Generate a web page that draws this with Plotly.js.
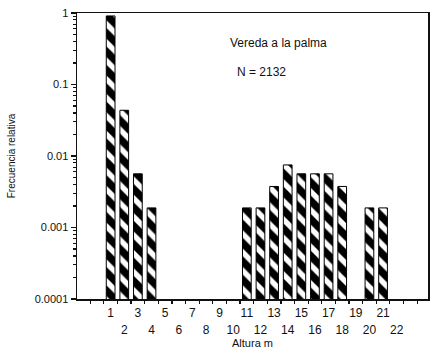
<!DOCTYPE html>
<html>
<head>
<meta charset="utf-8">
<script src="https://cdn.plot.ly/plotly-3.0.1.min.js"></script>
<style>
  html, body { margin: 0; padding: 0; background: #fff; }
  #chart { width: 431px; height: 355px; }
</style>
</head>
<body>
<div id="chart"></div>
<script>
// Height classes (m) and their relative frequency (N = 2132)
const alturas = [1, 2, 3, 4, 5, 6, 7, 8, 9, 10, 11, 12, 13, 14, 15, 16, 17, 18, 19, 20, 21, 22];
const frecuencia = [0.9095, 0.0436, 0.00563, 0.00188, null, null, null, null, null, null,
                    0.00188, 0.00188, 0.00375, 0.0075, 0.00563, 0.00563, 0.00563, 0.00375,
                    null, 0.00188, 0.00188, null];

const yTickVals = [0.0001, 0.001, 0.01, 0.1, 1];
const yTickText = ['0.0001', '0.001', '0.01', '0.1', '1'];

const oddTicks = alturas.filter(a => a % 2 === 1);
const evenTicks = alturas.filter(a => a % 2 === 0);

// minor log ticks 2..9 within each decade
const yMinorVals = [];
for (let e = -4; e < 0; e++) {
  for (let m = 2; m <= 9; m++) yMinorVals.push(m * Math.pow(10, e));
}

const FONT = 'Liberation Sans, Arial, sans-serif';
const INK = '#111';
const xRange = [-1.47, 24.3];

const trace = {
  type: 'bar',
  x: alturas,
  y: frecuencia,
  width: 0.64,
  marker: {
    color: '#000',
    line: { color: '#000', width: 1 },
    pattern: { shape: '\\', bgcolor: '#000', fgcolor: '#fff', size: 13, solidity: 0.42 }
  },
  hoverinfo: 'x+y'
};

// invisible companion trace so the even-label axis is drawn
const evenAxisTrace = { type: 'scatter', x: [], y: [], xaxis: 'x2', yaxis: 'y', hoverinfo: 'skip' };

const layout = {
  width: 431,
  height: 355,
  margin: { l: 77, r: 3, t: 13, b: 56 },
  paper_bgcolor: '#fff',
  plot_bgcolor: '#fff',
  showlegend: false,
  font: { family: FONT, size: 12, color: INK },
  xaxis: {
    range: xRange,
    showgrid: false,
    zeroline: false,
    showline: true,
    linecolor: INK,
    linewidth: 1.5,
    mirror: true,
    tickmode: 'array',
    tickvals: oddTicks,
    ticktext: oddTicks.map(String),
    ticks: '',
    ticklabelstandoff: 2,
    tickfont: { family: FONT, size: 12, color: INK },
    minor: { tick0: 0.5, dtick: 1, ticks: 'outside', ticklen: 3, tickwidth: 1.2, tickcolor: INK, showgrid: false },
    fixedrange: true
  },
  xaxis2: {
    overlaying: 'x',
    anchor: 'y',
    side: 'bottom',
    range: xRange,
    showgrid: false,
    zeroline: false,
    showline: false,
    tickmode: 'array',
    tickvals: evenTicks,
    ticktext: evenTicks.map(String),
    ticks: '',
    ticklabelstandoff: 22,
    tickfont: { family: FONT, size: 12, color: INK },
    title: { text: 'Altura m', font: { family: FONT, size: 11, color: INK }, standoff: 0 },
    fixedrange: true
  },
  yaxis: {
    type: 'log',
    range: [-4, 0],
    showgrid: false,
    zeroline: false,
    showline: true,
    linecolor: INK,
    linewidth: 1.5,
    mirror: true,
    tickmode: 'array',
    tickvals: yTickVals,
    ticktext: yTickText,
    ticks: 'outside',
    ticklen: 5,
    tickwidth: 1.3,
    tickcolor: INK,
    tickfont: { family: FONT, size: 11, color: INK },
    minor: { tickmode: 'array', tickvals: yMinorVals, ticks: 'outside', ticklen: 3, tickwidth: 1.1, tickcolor: INK, showgrid: false },
    title: { text: 'Frecuencia relativa', font: { family: FONT, size: 10, color: INK }, standoff: 17 },
    fixedrange: true
  },
  annotations: [
    { xref: 'paper', yref: 'paper', x: 0.43, y: 0.895, xanchor: 'left', yanchor: 'middle',
      text: 'Vereda a la palma', showarrow: false, font: { family: FONT, size: 12, color: INK } },
    { xref: 'paper', yref: 'paper', x: 0.45, y: 0.793, xanchor: 'left', yanchor: 'middle',
      text: 'N = 2132', showarrow: false, font: { family: FONT, size: 12, color: INK } }
  ]
};

Plotly.newPlot('chart', [trace, evenAxisTrace], layout, { displayModeBar: false, staticPlot: true });
</script>
</body>
</html>
